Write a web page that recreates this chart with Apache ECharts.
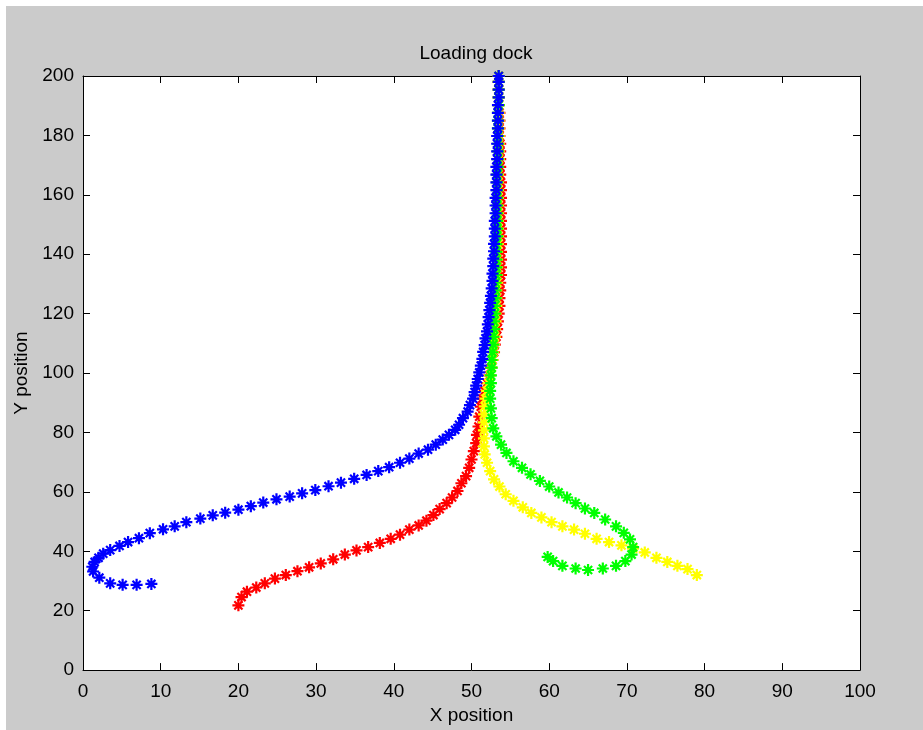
<!DOCTYPE html>
<html>
<head>
<meta charset="utf-8">
<style>
  html, body { margin: 0; padding: 0; background: #ffffff; }
  #chart { width: 923px; height: 730px; }
</style>
<script src="https://cdn.jsdelivr.net/npm/echarts@6/dist/echarts.min.js"></script>
</head>
<body>
<div id="chart"></div>
<script>
// ---- data (x position, y position) ----
const titleText = 'Loading dock';
const xName = 'X position';
const yName = 'Y position';
const xTicks = [0, 10, 20, 30, 40, 50, 60, 70, 80, 90, 100];
const yTicks = [0, 20, 40, 60, 80, 100, 120, 140, 160, 180, 200];

const redPath = [
  [20.0,21.8],[20.4,24.6],[21.1,26.4],[22.3,27.8],[23.4,29.2],[24.7,30.8],[26.1,32.0],[27.6,33.3],
  [29.1,34.6],[30.6,35.9],[32.2,37.3],[33.7,38.9],[35.2,40.3],[36.7,41.4],[38.2,42.8],[39.6,44.2],
  [40.8,45.6],[42.0,47.3],[43.2,48.7],[44.2,50.3],[45.1,52.2],[45.9,54.2],[46.8,56.2],[47.5,58.1],
  [48.2,60.3],[48.7,62.9],[49.3,65.3],[49.7,68.1],[50.0,70.9],[50.3,73.7],[50.6,76.4],[50.7,79.2],
  [50.9,82.0],[51.0,85.3],[51.2,88.7],[51.4,91.4],[51.7,94.0],[52.0,96.6],[52.3,99.2],[52.5,101.8],
  [52.7,104.4],[52.9,107.0],[53.0,109.6],[53.2,112.2],[53.3,114.8],[53.4,117.4],[53.5,120.0],[53.6,122.6],
  [53.6,125.2],[53.7,127.8],[53.7,130.4],[53.8,133.0],[53.8,135.6],[53.8,138.2],[53.8,140.8],[53.8,143.4],
  [53.8,146.0],[53.8,148.6],[53.8,151.2],[53.8,153.8],[53.8,156.4],[53.8,159.0],[53.8,161.6],[53.8,164.2],
  [53.7,166.8],[53.7,169.4],[53.7,172.0],[53.7,174.6],[53.7,177.2],[53.6,179.8],[53.6,182.4],[53.6,185.0],
  [53.6,187.6],[53.5,190.2],[53.5,192.8],[53.5,195.4],[53.5,198.0],[53.5,200.0]
];

const yellowPath = [
  [79.0,32.0],[77.8,34.0],[76.5,35.1],[75.2,36.4],[73.8,37.8],[72.3,39.6],[70.8,40.9],[69.3,42.0],
  [67.7,43.1],[66.1,44.2],[64.6,45.9],[63.2,47.3],[61.7,48.4],[60.3,49.8],[59.0,51.4],[57.7,52.9],
  [56.6,54.8],[55.4,57.0],[54.4,59.2],[53.6,61.8],[52.9,64.2],[52.4,67.0],[52.0,69.8],[51.7,72.6],
  [51.6,75.3],[51.6,78.0],[51.6,80.7],[51.6,83.4],[51.6,86.1],[51.7,88.8],[51.8,91.4],[52.0,94.0],
  [52.2,96.6],[52.4,99.2],[52.6,101.8],[52.7,104.4],[52.8,107.0],[52.9,109.6],[53.0,112.2],[53.0,114.8],
  [53.1,117.4],[53.1,120.0],[53.2,122.6],[53.2,125.2],[53.2,127.8],[53.3,130.4],[53.3,133.0],[53.3,135.6],
  [53.3,138.2],[53.3,140.8],[53.4,143.4],[53.4,146.0],[53.4,148.6],[53.4,151.2],[53.4,153.8],[53.4,156.4],
  [53.4,159.0],[53.4,161.6],[53.4,164.2],[53.4,166.8],[53.4,169.4],[53.5,172.0],[53.5,174.6],[53.5,177.2],
  [53.5,179.8],[53.5,182.4],[53.5,185.0],[53.5,187.6],[53.5,190.2],[53.5,192.8],[53.5,195.4],[53.5,198.0],
  [53.5,200.0]
];

const greenPath = [
  [59.8,38.1],[60.5,36.7],[61.7,35.1],[63.4,34.2],[65.0,33.7],[66.9,34.2],[68.6,35.1],[69.8,36.7],
  [70.6,38.9],[70.8,41.4],[70.4,44.0],[69.6,46.2],[68.6,48.4],[67.2,50.7],[65.8,52.9],[64.6,54.4],
  [63.4,56.2],[62.3,58.1],[61.2,59.8],[60.0,61.8],[58.8,63.7],[57.6,65.9],[56.5,68.1],[55.4,70.3],
  [54.5,73.1],[53.8,75.9],[53.2,78.7],[52.8,81.4],[52.6,84.8],[52.5,88.1],[52.4,91.4],[52.4,94.0],
  [52.5,96.6],[52.5,99.2],[52.6,101.8],[52.6,104.4],[52.7,107.0],[52.8,109.6],[52.8,112.2],[52.9,114.8],
  [52.9,117.4],[53.0,120.0],[53.0,122.6],[53.1,125.2],[53.1,127.8],[53.1,130.4],[53.2,133.0],[53.2,135.6],
  [53.2,138.2],[53.2,140.8],[53.2,143.4],[53.3,146.0],[53.3,148.6],[53.3,151.2],[53.3,153.8],[53.3,156.4],
  [53.3,159.0],[53.3,161.6],[53.3,164.2],[53.3,166.8],[53.4,169.4],[53.4,172.0],[53.4,174.6],[53.4,177.2],
  [53.4,179.8],[53.4,182.4],[53.4,185.0],[53.4,187.6],[53.5,190.2],[53.5,192.8],[53.5,195.4],[53.5,198.0],
  [53.5,200.0]
];

const bluePath = [
  [8.8,29.0],[6.9,28.7],[5.1,28.7],[3.5,29.2],[2.1,31.1],[1.3,33.2],[1.2,34.8],[1.5,36.4],
  [2.0,37.8],[2.6,39.2],[3.5,40.4],[4.7,41.8],[5.8,43.1],[7.2,44.4],[8.6,46.1],[10.3,47.4],
  [11.8,48.4],[13.3,49.8],[15.1,51.0],[16.7,52.1],[18.3,53.0],[20.0,54.0],[21.6,55.2],[23.2,56.4],
  [24.9,57.5],[26.6,58.4],[28.2,59.5],[29.9,60.6],[31.6,61.9],[33.2,63.1],[34.9,64.4],[36.5,65.7],
  [38.0,67.0],[39.4,68.3],[40.8,69.8],[42.0,71.2],[43.2,72.9],[44.4,74.2],[45.4,75.9],[46.3,77.6],
  [47.1,79.2],[47.9,80.9],[48.4,82.6],[48.9,84.8],[49.5,87.0],[49.8,89.2],[50.2,91.4],[50.4,93.6],
  [50.6,95.8],[50.8,98.0],[51.0,100.2],[51.2,102.5],[51.4,104.8],[51.5,107.1],[51.7,109.4],[51.8,111.7],
  [52.0,114.0],[52.1,116.4],[52.2,118.8],[52.3,121.2],[52.4,123.6],[52.5,126.0],[52.6,128.5],[52.7,131.0],
  [52.7,133.5],[52.8,136.0],[52.8,138.5],[52.9,141.0],[52.9,143.5],[53.0,146.0],[53.0,148.6],[53.0,151.2],
  [53.1,153.8],[53.1,156.4],[53.1,159.0],[53.2,161.6],[53.2,164.2],[53.2,166.8],[53.2,169.4],[53.3,172.0],
  [53.3,174.6],[53.3,177.2],[53.3,179.8],[53.4,182.4],[53.4,185.0],[53.4,187.6],[53.4,190.2],[53.5,192.8],
  [53.5,195.4],[53.5,198.0],[53.5,200.0]
];

const seriesList = [
  { name: 'red', color: '#ff0000', data: redPath },
  { name: 'yellow', color: '#ffff00', data: yellowPath },
  { name: 'green', color: '#00ff00', data: greenPath },
  { name: 'blue', color: '#0000ff', data: bluePath }
];

// ---- chart ----
const FONT = '"Liberation Sans", Arial, Helvetica, sans-serif';
const ASTERISK = 'path://M5,0L5,10M0,5L10,5M1.6,1.6L8.4,8.4M1.6,8.4L8.4,1.6';

const chart = echarts.init(document.getElementById('chart'), null, { renderer: 'canvas' });

const axisCommon = {
  type: 'value',
  axisLine: { show: true, onZero: false, lineStyle: { color: '#000', width: 1 } },
  axisTick: { show: true, inside: true, length: 7, lineStyle: { color: '#000', width: 1 } },
  splitLine: { show: false },
  axisLabel: { color: '#000', fontFamily: FONT, fontSize: 19 },
  nameTextStyle: { color: '#000', fontFamily: FONT, fontSize: 19 }
};

const option = {
  animation: false,
  backgroundColor: '#ffffff',
  graphic: [
    { type: 'rect', z: -10, silent: true, shape: { x: 6, y: 6, width: 923, height: 730 }, style: { fill: '#cbcbcb' } }
  ],
  title: {
    text: titleText,
    left: 471, top: 39,
    textAlign: 'center',
    textStyle: { color: '#000', fontFamily: FONT, fontSize: 19, fontWeight: 'normal' }
  },
  grid: {
    left: 83, top: 76, right: 63, bottom: 54,
    show: true, backgroundColor: '#ffffff', borderWidth: 0, containLabel: false
  },
  xAxis: [
    Object.assign({}, axisCommon, {
      position: 'bottom', min: xTicks[0], max: xTicks[xTicks.length - 1], interval: xTicks[1] - xTicks[0],
      name: xName, nameLocation: 'middle', nameGap: 33,
      axisLabel: Object.assign({}, axisCommon.axisLabel, { margin: 12 })
    }),
    Object.assign({}, axisCommon, {
      position: 'top', min: xTicks[0], max: xTicks[xTicks.length - 1], interval: xTicks[1] - xTicks[0],
      axisLabel: { show: false }
    })
  ],
  yAxis: [
    Object.assign({}, axisCommon, {
      position: 'left', min: yTicks[0], max: yTicks[yTicks.length - 1], interval: yTicks[1] - yTicks[0],
      name: yName, nameLocation: 'middle', nameGap: 52, nameRotate: 90,
      axisLabel: Object.assign({}, axisCommon.axisLabel, { margin: 9 })
    }),
    Object.assign({}, axisCommon, {
      position: 'right', min: yTicks[0], max: yTicks[yTicks.length - 1], interval: yTicks[1] - yTicks[0],
      axisLabel: { show: false }
    })
  ],
  series: seriesList.map(s => ({
    name: s.name,
    type: 'scatter',
    xAxisIndex: 0,
    yAxisIndex: 0,
    data: s.data,
    symbol: ASTERISK,
    symbolSize: 12,
    itemStyle: { color: s.color, borderColor: s.color, borderWidth: 2.2, opacity: 1 },
    emphasis: { disabled: true },
    silent: true
  }))
};

chart.setOption(option);
</script>
</body>
</html>
